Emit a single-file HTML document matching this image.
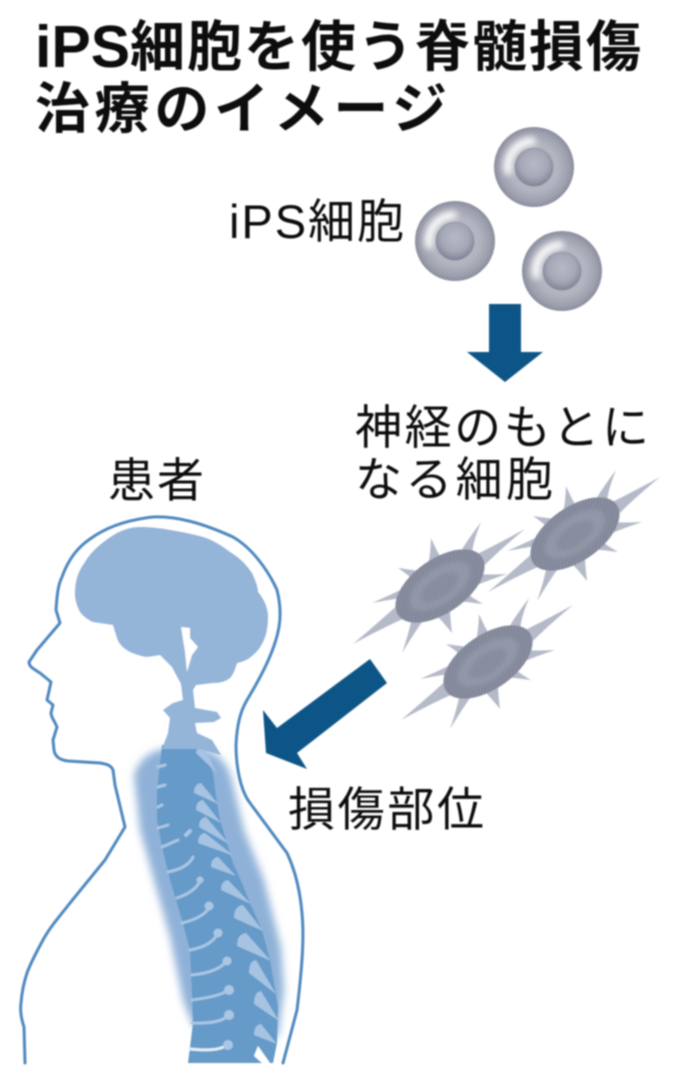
<!DOCTYPE html>
<html lang="ja">
<head>
<meta charset="utf-8">
<title>iPS細胞を使う脊髄損傷治療のイメージ</title>
<style>
html,body{margin:0;padding:0;background:#fff;width:680px;height:1081px;overflow:hidden}
svg{display:block}
text{font-family:"Liberation Sans","Noto Sans CJK JP",sans-serif;fill:#111}
.t{font-size:55px;font-weight:700}
.l{font-size:47px;font-weight:400}
</style>
</head>
<body>
<svg width="680" height="1081" viewBox="0 0 680 1081" xmlns="http://www.w3.org/2000/svg">
<defs>
<filter id="s" x="-10%" y="-10%" width="120%" height="120%"><feGaussianBlur stdDeviation="0.7"/></filter>
<filter id="b" x="-30%" y="-30%" width="160%" height="160%"><feGaussianBlur stdDeviation="4"/></filter>
<filter id="h" x="-50%" y="-50%" width="200%" height="200%"><feGaussianBlur stdDeviation="2.2"/></filter>
<filter id="h2" x="-60%" y="-60%" width="220%" height="220%"><feGaussianBlur stdDeviation="3.5"/></filter>
<radialGradient id="cg" cx="0.5" cy="0.5" r="0.5">
<stop offset="0" stop-color="#b4b7c2"/><stop offset="0.6" stop-color="#aeb1bd"/><stop offset="0.86" stop-color="#989ba9"/><stop offset="1" stop-color="#858899"/>
</radialGradient>
<radialGradient id="ng" cx="0.5" cy="0.42" r="0.58">
<stop offset="0" stop-color="#b2b6c2"/><stop offset="0.6" stop-color="#a0a4b3"/><stop offset="1" stop-color="#777b8e"/>
</radialGradient>
<pattern id="hatch" width="3" height="3" patternUnits="userSpaceOnUse" patternTransform="rotate(45)">
<rect width="1" height="3" fill="#fff" fill-opacity="0.14"/>
</pattern>
<g id="ips">
<circle r="40" fill="url(#cg)"/>
<path d="M-26,4 A26,26 0 0 1 -2,-26" fill="none" stroke="#fff" stroke-width="8" stroke-linecap="round" filter="url(#h2)"/>
<circle r="19.5" fill="url(#ng)"/>
<circle r="40" fill="url(#hatch)"/>
</g>
<g id="neuron">
<path fill="#b5bac8" d="M42,-18 Q56,-33 85,-57 Q52,-39 33,-30Z M32,-30 Q32,-42 41,-64 Q26,-44 20,-33Z M2,-27 Q-2.5,-33 -9,-48 Q-9.5,-31 -12,-22Z M-20,-15 Q-28,-16 -42,-18 Q-30,-10 -25,-4Z M-32,0 Q-45,7 -68,17 Q-47,13 -37,12Z M-37,14 Q-54,30 -87,58 Q-50,38 -30,30Z M-28,30 Q-30,44 -38,67 Q-24,44 -15,32Z M-5,28 Q2,34.5 12,47 Q10,31.5 10,22Z M18,15 Q27.5,16 43,18 Q32.5,12 28,8Z M35,0 Q46,-5 67,-12 Q48,-11 40,-12Z"/>
<ellipse rx="51" ry="27" transform="rotate(-35)" fill="#7f8497"/>
<ellipse rx="35" ry="17" transform="rotate(-35)" fill="#8d92a4" filter="url(#h)"/>
<ellipse cx="-1" cy="1" rx="22" ry="10" transform="rotate(-35)" fill="#82879a" filter="url(#h)"/>
<ellipse rx="51" ry="27" transform="rotate(-35)" fill="url(#hatch)"/>
</g>
</defs>

<g filter="url(#s)">
<!-- Title -->
<text x="35" y="67" style="font-size:59px;font-weight:700">iPS</text>
<text class="t" x="130" y="66" textLength="511" lengthAdjust="spacing">細胞を使う脊髄損傷</text>
<text class="t" x="35" y="128" textLength="412" lengthAdjust="spacing">治療のイメージ</text>

<!-- Labels -->
<text class="l" x="229" y="238" textLength="175" lengthAdjust="spacing">iPS細胞</text>
<text class="l" x="355" y="444" textLength="294" lengthAdjust="spacing">神経のもとに</text>
<text class="l" x="355" y="496" textLength="198" lengthAdjust="spacing">なる細胞</text>
<text class="l" x="108" y="497" textLength="96" lengthAdjust="spacing">患者</text>
<text class="l" x="288" y="826" textLength="196" lengthAdjust="spacing">損傷部位</text>

<!-- iPS cells -->
<use href="#ips" x="534" y="167"/>
<use href="#ips" x="455" y="241"/>
<use href="#ips" x="562" y="271"/>

<!-- Arrows -->
<polygon points="489,304 521,304 521,352 543,352 505,382 467,352 489,352" fill="#0f5486"/>
<polygon points="263,710 277,728 370,659 387,683 297,753 307,769 266,753" fill="#0f5486"/>

<!-- Neurons -->
<use href="#neuron" x="440" y="586"/>
<use href="#neuron" x="575" y="534"/>
<use href="#neuron" x="488" y="662"/>

<!-- Blurred band around the spine -->
<path d="M134,775 Q142,750 170,748 L200,748 Q224,753 231,777 L244,830 L264,880 L281,947 L284,990 L278,1037 L193,1026 L183,1000 L170,937 L153,877 L140,830Z" fill="#8fb1d8" filter="url(#b)"/>

<!-- Spine -->
<path d="M162,745 L200,745 L213,773 L217,803 L220,820 L233,863 L242,883 L250,903 L262,930 L270,960 L278,1007 L277,1043 L273,1063 L188,1063 L193,1023 L192,993 L190,950 L182,920 L170,880 L162,847 L157,820 L157,790Z" fill="#659ac9"/>

<!-- Ribs front (left lines) -->
<g fill="none" stroke="#aac6e3" stroke-linecap="round" stroke-width="3">
<path d="M158,767 L165,765"/>
<path d="M158,787 L165,785"/>
<path d="M158,807 L162,805"/>
<path d="M158,828 L168,825"/>
<path d="M162,847 L178,840"/>
<path d="M186,835 L190,831" stroke-width="4"/>
<path d="M168,872 Q188,868 193,857"/>
<path d="M177,898 Q197,891 200,880"/>
<path d="M182,923 Q203,918 210,907"/>
<path d="M190,950 Q212,946 218,933"/>
<path d="M192,975 Q220,972 227,960"/>
<path d="M192,1000 Q222,996 228,990"/>
<path d="M192,1023 Q222,1024 228,1015"/>
<path d="M190,1049 Q218,1052 227,1045" stroke="#e4eef7"/>
</g>
<g fill="#aac6e3">
<circle cx="200" cy="880" r="3.5"/><circle cx="209" cy="906" r="4.5"/><circle cx="218" cy="933" r="4.5"/><circle cx="227" cy="961" r="4.5"/><circle cx="229" cy="990" r="5"/><circle cx="229" cy="1015" r="5"/><circle cx="228" cy="1045" r="5"/>
</g>

<!-- Ribs back (right wedges) -->
<g fill="#a6c3e2">
<path d="M203,746 L217,773 L196,753 Q197,746 203,746Z"/>
<path d="M201,783 L218,804 L194,793 Q194,784 201,783Z"/>
<path d="M203,800 L221,823 L196,810 Q196,801 203,800Z"/>
<path d="M206,817 L229,844 L199,827 Q199,818 206,817Z"/>
<path d="M205,833 L234,856 L198,843 Q198,834 205,833Z"/>
<path d="M218,857 L236,876 L211,867 Q211,858 218,857Z"/>
<path d="M228,880 L251,904 L221,890 Q221,881 228,880Z"/>
<path d="M243,905 L263,931 L234,918 Q234,906 243,905Z"/>
<path d="M246,933 L271,961 L237,946 Q237,934 246,933Z"/>
<path d="M256,960 L276,994 L249,973 Q249,961 256,960Z"/>
<path d="M261,991 L279,1021 L254,1004 Q254,992 261,991Z"/>
<path d="M261,1024 L277,1044 L254,1035 Q254,1025 261,1024Z"/>
</g>
<path d="M258,1046 L270,1063 L262,1063 L254,1056Z" fill="#fff"/>

<!-- Brain & upper cervical -->
<path fill="#94b4d8" d="M75,595 C75,580 78,572 85,562 C92,550 105,540 117,533 C125,529 132,527 140,527 C150,527 160,528 170,530 C182,532 192,534 203,537 C213,540 222,546 230,552 C240,558 248,566 253,575 C256,582 258,588 258,592 C263,598 267,605 268,615 C268,625 267,634 263,642 C260,648 257,652 253,655 C248,660 242,662 237,663 C235,670 233,675 230,678 C225,682 219,683 213,683 L196,685 L193,690 L195,708 L217,712 L221,718 L214,722 L195,723 L197,733 L212,740 L221,755 L200,749 L162,749 L168,733 L170,718 L163,710 L173,703 L183,700 L181,684 L172,667 L160,655 L147,657 C140,656 135,654 130,652 C123,648 119,644 117,638 L113,625 L93,622 C88,620 83,616 80,612 C77,606 75,600 75,595Z"/>
<path fill="#fff" d="M181,627 L190,628 L190,638 L198,647 L192,655 L187,672 L185,652Z"/>

<!-- Body outline -->
<path fill="none" stroke="#5089bf" stroke-width="3" stroke-linejoin="round" stroke-linecap="round" d="M25,1063 L24,1027 C21,1018 20,1010 21,1003 C22,990 24,982 27,973 C31,962 37,951 43,940 C50,927 60,916 70,903 L105,860 L125,827 L115,785 L113,770 C111,765 106,764 100,763 L68,761 C60,760 55,757 54,750 L53,740 L57,727 C54,720 51,717 51,713 L53,705 L47,700 L51,682 L40,673 C34,669 29,667 29,662 L37,650 L60,623 L56,610 C57,595 58,585 62,577 C68,560 78,547 90,539 C105,528 125,520 153,517 C175,516 200,522 233,537 C252,548 268,570 277,590 C280,602 281,615 279,627 C275,650 262,675 247,700 C240,712 237,725 236,745 C236,765 240,790 250,803 L287,853 C295,870 300,890 302,913 C304,935 303,960 297,1010 L283,1063"/>
</g>
</svg>
</body>
</html>
